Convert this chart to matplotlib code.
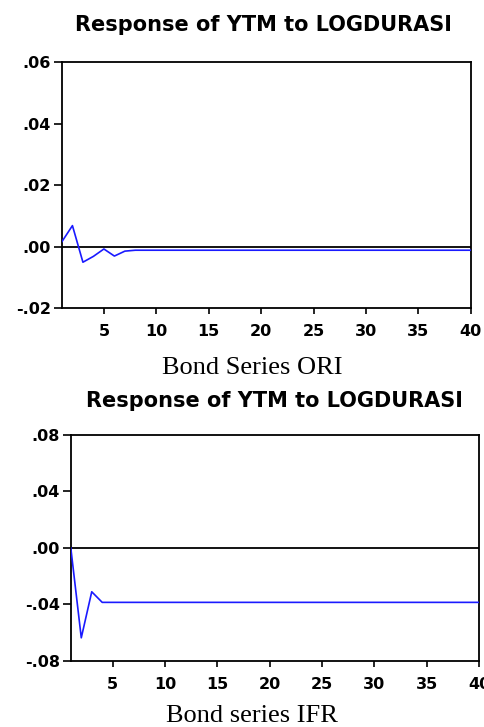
import numpy as np
import matplotlib
matplotlib.use("Agg")
import matplotlib.pyplot as plt

# horizon (periods) and impulse responses
periods = list(range(1, 41))
ori_head = [0.0016, 0.0068, -0.0051, -0.0032, -0.0008, -0.0031, -0.0015]
ori_tail = -0.0012
ifr_head = [0.0, -0.0636, -0.0310, -0.0385]
ifr_tail = -0.0385

resp_ori = ori_head + [ori_tail] * (len(periods) - len(ori_head))
resp_ifr = ifr_head + [ifr_tail] * (len(periods) - len(ifr_head))

ori_ticks = [-0.02, 0.0, 0.02, 0.04, 0.06]
ori_labels = ["-.02", ".00", ".02", ".04", ".06"]
ifr_ticks = [-0.08, -0.04, 0.0, 0.04, 0.08]
ifr_labels = ["-.08", "-.04", ".00", ".04", ".08"]
x_ticks = [5, 10, 15, 20, 25, 30, 35, 40]

title = "Response of YTM to LOGDURASI"
captions = ["Bond Series ORI", "Bond series IFR"]

W, H = 484, 727
fig = plt.figure(figsize=(W / 100, H / 100), dpi=100)
fig.patch.set_facecolor("white")

def panel(rect, y, ticks, labels, ylim, caption, cap_base, title_x, title_base):
    ax = fig.add_axes(rect)
    ax.plot(periods, y, color="#1a1aff", lw=1.2, zorder=3)
    ax.axhline(0, color="black", lw=1.3, zorder=2)
    ax.set_xlim(1, 40)
    ax.set_ylim(*ylim)
    ax.set_yticks(ticks)
    ax.set_yticklabels(labels)
    ax.set_xticks(x_ticks)
    ax.set_xticklabels([str(t) for t in x_ticks])
    for s in ax.spines.values():
        s.set_linewidth(1.3)
    ax.tick_params(axis="x", direction="out", length=4.5, width=1.2, pad=7)
    ax.tick_params(axis="y", direction="out", length=6, width=1.2, pad=2)
    for lab in ax.get_xticklabels() + ax.get_yticklabels():
        lab.set_fontfamily("DejaVu Sans")
        lab.set_fontweight("bold")
        lab.set_fontsize(11.5)
    fig.text(title_x / W, 1 - title_base / H, title, ha="center", va="baseline",
             fontfamily="DejaVu Sans", fontweight="bold", fontsize=15)
    fig.text(252 / W, 1 - cap_base / H, caption, ha="center", va="baseline",
             fontfamily="Liberation Serif", fontsize=19)
    return ax

panel([0.128, 0.5763, 0.845, 0.3384], resp_ori, ori_ticks, ori_labels,
      (-0.02, 0.06), captions[0], 374, 263, 31)
panel([0.1463, 0.0908, 0.8434, 0.3109], resp_ifr, ifr_ticks, ifr_labels,
      (-0.08, 0.08), captions[1], 722, 274, 407)

fig.savefig("out.png", dpi=100)
